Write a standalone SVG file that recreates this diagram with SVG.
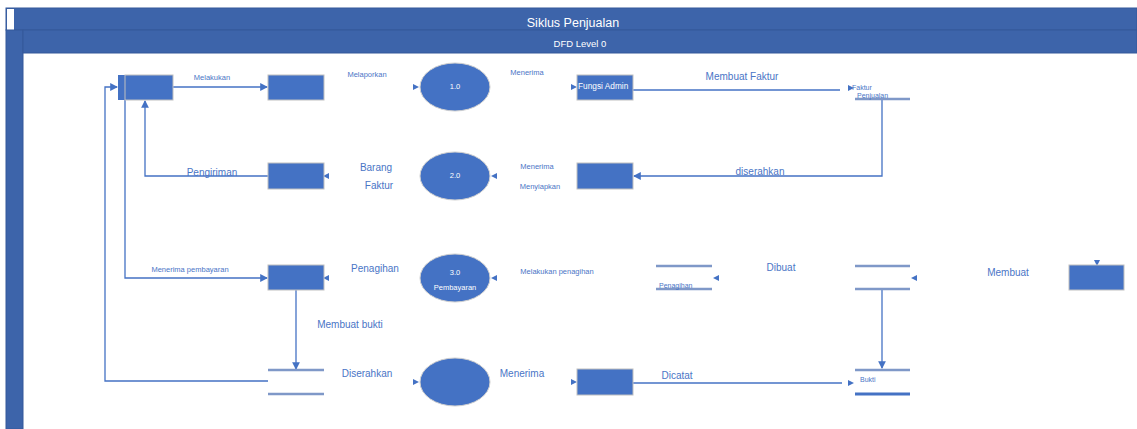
<svg xmlns="http://www.w3.org/2000/svg" width="1137" height="429" viewBox="0 0 1137 429">
  <style>
    .band { fill: #3d64aa; stroke: #35599a; stroke-width: 1; }
    .box { fill: #4472c4; stroke: #c0c0c0; stroke-width: 1; }
    .proc { fill: #4472c4; stroke: #d0d0d0; stroke-width: 1; }
    .flow { fill: none; stroke: #4472c4; stroke-width: 1.3; }
    .store { stroke: #7f98c8; stroke-width: 2.5; }
    .lbl { font-family: "Liberation Sans", Arial, sans-serif; fill: #4a75c6; }
    .s7 { font-size: 7.5px; }
    .s10 { font-size: 10px; }
    .w { font-family: "Liberation Sans", Arial, sans-serif; fill: #ffffff; }
  </style>
  <defs>
    <marker id="arr" viewBox="0 0 8 8" refX="7" refY="4" markerWidth="6" markerHeight="6" orient="auto">
      <path d="M0,0 L8,4 L0,8 Z" fill="#4472c4"/>
    </marker>
    <path id="tip" d="M-3,-3 L3,0 L-3,3 Z" fill="#4472c4"/>
  </defs>

  <!-- frame -->
  <g id="frame">
    <rect class="band" x="6" y="8" width="1131" height="22"/>
    <rect x="7" y="9" width="7" height="21" fill="#ffffff"/>
    <rect class="band" x="6" y="30" width="17" height="399"/>
    <rect class="band" x="23" y="30" width="1114" height="23"/>
    <text class="w" x="573" y="27" font-size="12.5" text-anchor="middle">Siklus Penjualan</text>
    <text class="w" x="580" y="47" font-size="9.5" text-anchor="middle">DFD Level 0</text>
  </g>

  <!-- connectors -->
  <g id="connectors">
    <path class="flow" d="M173,87 H267" marker-end="url(#arr)"/>
    <path class="flow" d="M633,90 H840"/>
    <path class="flow" d="M882,100 V176 H634" marker-end="url(#arr)"/>
    <path class="flow" d="M268,176 H145 V101" marker-end="url(#arr)"/>
    <path class="flow" d="M125,100 V278 H267" marker-end="url(#arr)"/>
    <path class="flow" d="M268,381 H105 V87 H117" marker-end="url(#arr)"/>
    <path class="flow" d="M296,290 V369" marker-end="url(#arr)"/>
    <path class="flow" d="M633,383 H842"/>
    <path class="flow" d="M882,290 V368" marker-end="url(#arr)"/>
    <!-- loose arrow tips -->
    <use href="#tip" transform="translate(416,87)"/>
    <use href="#tip" transform="translate(574,87)"/>
    <use href="#tip" transform="translate(851,88)"/>
    <use href="#tip" transform="translate(326,176) rotate(180)"/>
    <use href="#tip" transform="translate(494,176) rotate(180)"/>
    <use href="#tip" transform="translate(326,278) rotate(180)"/>
    <use href="#tip" transform="translate(494,278) rotate(180)"/>
    <use href="#tip" transform="translate(716,278) rotate(180)"/>
    <use href="#tip" transform="translate(914,278) rotate(180)"/>
    <use href="#tip" transform="translate(1097,263) rotate(90)"/>
    <use href="#tip" transform="translate(416,382)"/>
    <use href="#tip" transform="translate(574,382)"/>
    <use href="#tip" transform="translate(851,383)"/>
  </g>

  <!-- flow labels -->
  <g id="labels">
    <text class="lbl s7" x="212" y="80" text-anchor="middle">Melakukan</text>
    <text class="lbl s7" x="367" y="77" text-anchor="middle">Melaporkan</text>
    <text class="lbl s7" x="527" y="75" text-anchor="middle">Menerima</text>
    <text class="lbl s10" x="742" y="80" text-anchor="middle">Membuat Faktur</text>
    <text class="lbl s10" x="760" y="175" text-anchor="middle">diserahkan</text>
    <text class="lbl s7" x="537" y="169" text-anchor="middle">Menerima</text>
    <text class="lbl s7" x="540" y="189" text-anchor="middle">Menyiapkan</text>
    <text class="lbl s10" x="376" y="171" text-anchor="middle">Barang</text>
    <text class="lbl s10" x="379" y="189" text-anchor="middle">Faktur</text>
    <text class="lbl s10" x="212" y="176" text-anchor="middle">Pengiriman</text>
    <text class="lbl s7" x="190" y="272" text-anchor="middle">Menerima pembayaran</text>
    <text class="lbl s10" x="375" y="272" text-anchor="middle">Penagihan</text>
    <text class="lbl s7" x="557" y="274" text-anchor="middle">Melakukan penagihan</text>
    <text class="lbl s10" x="781" y="271" text-anchor="middle">Dibuat</text>
    <text class="lbl s10" x="1008" y="276" text-anchor="middle">Membuat</text>
    <text class="lbl s10" x="350" y="328" text-anchor="middle">Membuat bukti</text>
    <text class="lbl s10" x="367" y="377" text-anchor="middle">Diserahkan</text>
    <text class="lbl s10" x="522" y="377" text-anchor="middle">Menerima</text>
    <text class="lbl s10" x="677" y="379" text-anchor="middle">Dicatat</text>
  </g>

  <!-- external entities -->
  <g id="entity-pelanggan">
    <rect x="118" y="75" width="7" height="25" fill="#4472c4"/>
    <rect class="box" x="125" y="75" width="48" height="25"/>
  </g>
  <g id="entity-penjualan">
    <rect class="box" x="268" y="75" width="56" height="25"/>
  </g>
  <g id="entity-admin">
    <rect class="box" x="577" y="75" width="56" height="25"/>
    <text class="w" x="578" y="89" font-size="8.3">Fungsi Admin</text>
  </g>
  <g id="entity-gudang">
    <rect class="box" x="268" y="163" width="56" height="26"/>
  </g>
  <g id="entity-pengiriman">
    <rect class="box" x="577" y="163" width="56" height="26"/>
  </g>
  <g id="entity-penagihan">
    <rect class="box" x="268" y="265" width="56" height="25"/>
  </g>
  <g id="entity-kanan">
    <rect class="box" x="1069" y="265" width="55" height="25"/>
  </g>
  <g id="entity-kas">
    <rect class="box" x="577" y="369" width="56" height="26"/>
  </g>

  <!-- processes -->
  <g id="proc-1">
    <ellipse class="proc" cx="455" cy="87" rx="35" ry="24"/>
    <text class="w" x="455" y="89" font-size="7.5" text-anchor="middle">1.0</text>
  </g>
  <g id="proc-2">
    <ellipse class="proc" cx="455" cy="176" rx="35" ry="24"/>
    <text class="w" x="455" y="178" font-size="7.5" text-anchor="middle">2.0</text>
  </g>
  <g id="proc-3">
    <ellipse class="proc" cx="455" cy="278" rx="35" ry="24"/>
    <text class="w" x="455" y="275" font-size="7.5" text-anchor="middle">3.0</text>
    <text class="w" x="455" y="290" font-size="7.5" text-anchor="middle">Pembayaran</text>
  </g>
  <g id="proc-4">
    <ellipse class="proc" cx="455" cy="382" rx="35" ry="24"/>
  </g>

  <!-- data stores -->
  <g id="store-faktur">
    <line class="store" x1="855" y1="99" x2="910" y2="99"/>
    <text class="lbl" x="852" y="90" font-size="7">Faktur</text>
    <text class="lbl" x="857" y="98" font-size="7">Penjualan</text>
  </g>
  <g id="store-penagihan">
    <line class="store" x1="656" y1="266" x2="712" y2="266"/>
    <line class="store" x1="656" y1="289" x2="712" y2="289"/>
    <text class="lbl" x="659" y="288" font-size="7">Penagihan</text>
  </g>
  <g id="store-tengah">
    <line class="store" x1="855" y1="266" x2="910" y2="266"/>
    <line class="store" x1="855" y1="289" x2="910" y2="289"/>
  </g>
  <g id="store-serah">
    <line class="store" x1="268" y1="370" x2="324" y2="370"/>
    <line class="store" x1="268" y1="394" x2="324" y2="394"/>
  </g>
  <g id="store-bukti">
    <line class="store" x1="855" y1="370" x2="910" y2="370"/>
    <line x1="855" y1="394" x2="910" y2="394" stroke="#4472c4" stroke-width="3"/>
    <text class="lbl" x="860" y="382" font-size="7">Bukti</text>
  </g>
</svg>
